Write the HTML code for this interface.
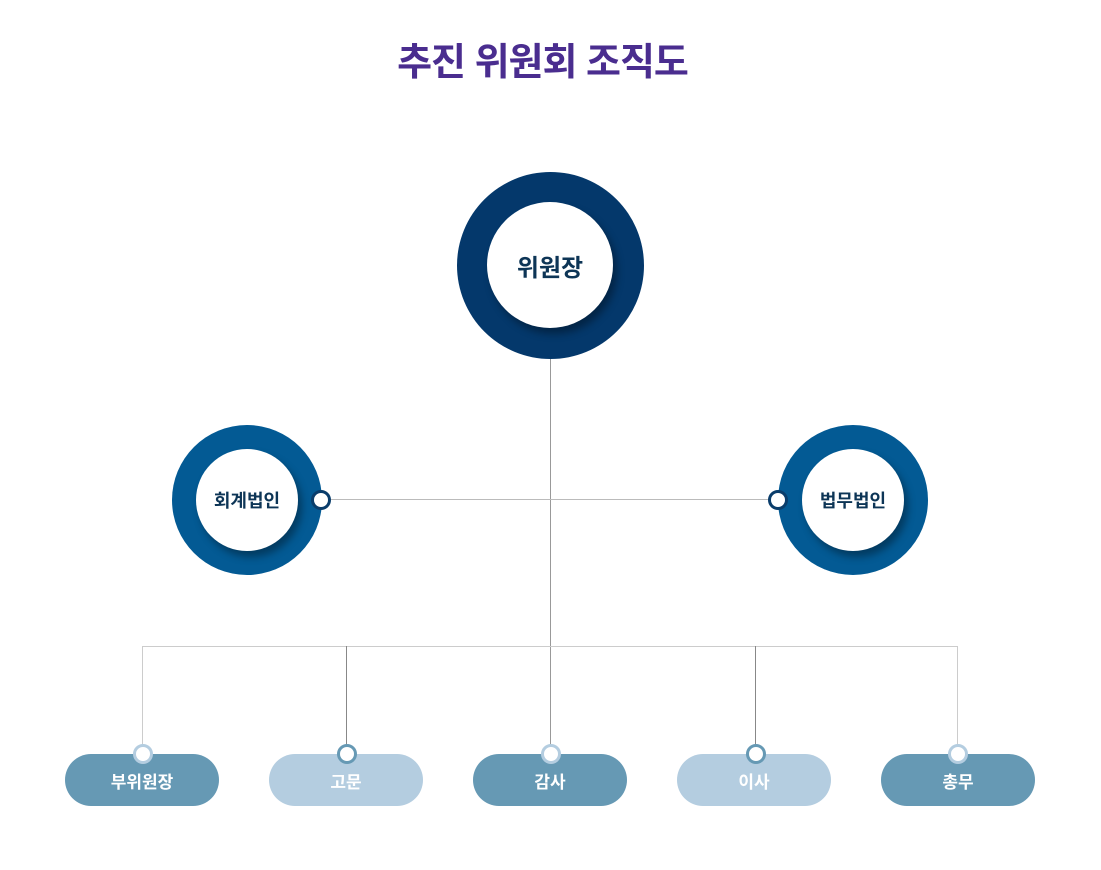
<!DOCTYPE html>
<html><head><meta charset="utf-8"><style>
body{margin:0;width:1101px;height:870px;background:#fff;position:relative;font-family:"Liberation Sans","Noto Sans CJK KR",sans-serif;overflow:hidden}
.t{position:absolute;left:-8px;width:1101px;top:31px;text-align:center;font-size:38px;font-weight:bold;color:#4a2d8f;letter-spacing:-1px}
.c{position:absolute;border-radius:50%}
.in{position:absolute;border-radius:50%;background:#fff;box-shadow:4px 6px 8px rgba(0,0,0,.35);display:flex;align-items:center;justify-content:center;font-weight:bold;color:#0d3556}
.p{position:absolute;top:754px;width:154px;height:52px;border-radius:26px;color:#fff;font-weight:bold;font-size:17px;display:flex;align-items:center;justify-content:center}
.d{position:absolute;width:14px;height:14px;border-radius:50%;background:#fff;border:3px solid}
.l{position:absolute;background:#bbb}
</style></head><body>
<div class="t">추진 위원회 조직도</div>
<div class="l" style="left:550px;top:358px;width:1px;height:396px;background:#999"></div>
<div class="l" style="left:321px;top:499px;width:457px;height:1px"></div>
<div class="l" style="left:142px;top:646px;width:816px;height:1px;background:#ccc"></div>
<div class="l" style="left:142px;top:646px;width:1px;height:108px;background:#ccc"></div>
<div class="l" style="left:346px;top:646px;width:1px;height:108px;background:#888"></div>
<div class="l" style="left:755px;top:646px;width:1px;height:108px;background:#888"></div>
<div class="l" style="left:957px;top:646px;width:1px;height:108px;background:#ccc"></div>
<div class="c" style="left:457px;top:172px;width:187px;height:187px;background:#04386b"></div>
<div class="in" style="left:487px;top:202px;width:126px;height:126px;font-size:24px">위원장</div>
<div class="c" style="left:172px;top:425px;width:150px;height:150px;background:#035a94"></div>
<div class="in" style="left:196px;top:449px;width:102px;height:102px;font-size:18px">회계법인</div>
<div class="c" style="left:778px;top:425px;width:150px;height:150px;background:#035a94"></div>
<div class="in" style="left:802px;top:449px;width:102px;height:102px;font-size:18px">법무법인</div>
<div class="d" style="left:311px;top:490px;border-color:#0a3d6b"></div>
<div class="d" style="left:768px;top:490px;border-color:#0a3d6b"></div>
<div class="p" style="left:65px;background:#6699b4">부위원장</div>
<div class="p" style="left:269px;background:#b4cde0">고문</div>
<div class="p" style="left:473px;background:#6699b4">감사</div>
<div class="p" style="left:677px;background:#b4cde0">이사</div>
<div class="p" style="left:881px;background:#6699b4">총무</div>
<div class="d" style="left:133px;top:744px;border-color:#b4cde0"></div>
<div class="d" style="left:337px;top:744px;border-color:#6699b4"></div>
<div class="d" style="left:541px;top:744px;border-color:#b4cde0"></div>
<div class="d" style="left:746px;top:744px;border-color:#6699b4"></div>
<div class="d" style="left:948px;top:744px;border-color:#b4cde0"></div>
</body></html>
